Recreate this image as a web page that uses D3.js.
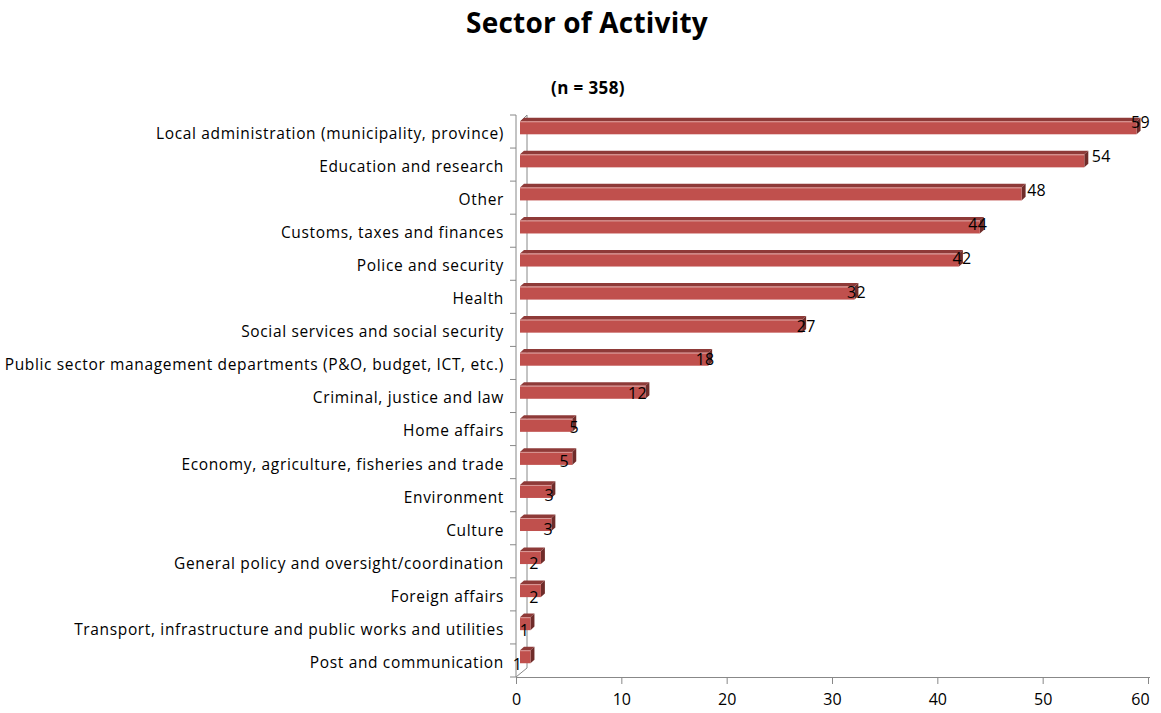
<!DOCTYPE html>
<html>
<head>
<meta charset="utf-8">
<script src="https://cdn.jsdelivr.net/npm/d3@7"></script>
<style>
  body { margin: 0; background: #fff; }
  svg { font-family: "Open Sans", "Noto Sans", sans-serif; }
</style>
</head>
<body>
<svg id="chart" width="1161" height="713"></svg>
<script>
// data (n = 358)
const categories = [
  "Local administration (municipality, province)",
  "Education and research",
  "Other",
  "Customs, taxes and finances",
  "Police and security",
  "Health",
  "Social services and social security",
  "Public sector management departments (P&O, budget, ICT, etc.)",
  "Criminal, justice and law",
  "Home affairs",
  "Economy, agriculture, fisheries and trade",
  "Environment",
  "Culture",
  "General policy and oversight/coordination",
  "Foreign affairs",
  "Transport, infrastructure and public works and utilities",
  "Post and communication"
];
const counts = [59, 54, 48, 44, 42, 32, 27, 18, 12, 5, 5, 3, 3, 2, 2, 1, 1];
const xTicks = [0, 10, 20, 30, 40, 50, 60];
const chartTitle = "Sector of Activity";
const subTitle = "(n = 358)";

const svg = d3.select("#chart");

// plot area
const pLeft = 516, pRight = 1148, pTop = 115, pBottom = 677;
const depth = 11, rise = 9;          // 3d wall offset
const axisColor = "#888";

// axis scale (front edge) and bar scale (bars sit a bit deeper in the 3d box)
const x = d3.scaleLinear().domain([0, 60]).range([pLeft, pRight]);
const xb = d3.scaleLinear().domain([0, 60]).range([pLeft + 4, pRight - 1]);
const y = d3.scaleBand().domain(categories).range([pTop, pBottom]);

// label nudges so they sit like Excel put them
const labelShift = [4, 17, 15, -2, 3, 2, 4, -3, -8, 2, -8, -2, -3, -7, -7, -6, -13];

// title
svg.append("text")
  .attr("x", 587).attr("y", 33)
  .attr("text-anchor", "middle")
  .style("font-size", "28px").style("font-weight", "bold")
  .style("letter-spacing", "0.2px")
  .text(chartTitle);

svg.append("text")
  .attr("x", 588).attr("y", 94)
  .attr("text-anchor", "middle")
  .style("font-size", "17px").style("font-weight", "bold")
  .style("letter-spacing", "0.4px")
  .text(subTitle);

// walls / floor edges
const walls = svg.append("g").attr("stroke", axisColor).attr("fill", "none");
walls.append("line").attr("x1", pLeft + depth).attr("x2", pLeft + depth)
  .attr("y1", pTop).attr("y2", pBottom - rise);
walls.append("line").attr("x1", pLeft + 5).attr("y1", pTop + 6)
  .attr("x2", pLeft + depth).attr("y2", pTop);
walls.append("line").attr("x1", pLeft).attr("y1", pBottom)
  .attr("x2", pLeft + depth).attr("y2", pBottom - rise);

// category axis
const yAxis = svg.append("g").attr("stroke", axisColor);
yAxis.append("line").attr("x1", pLeft).attr("x2", pLeft).attr("y1", pTop).attr("y2", pBottom);
yAxis.selectAll(".tick")
  .data(d3.range(categories.length + 1))
  .join("line")
  .attr("x1", pLeft - 6).attr("x2", pLeft)
  .attr("y1", i => pTop + i * y.step()).attr("y2", i => pTop + i * y.step());

svg.append("g").selectAll("text")
  .data(categories)
  .join("text")
  .attr("x", pLeft - 12)
  .attr("y", d => y(d) + y.bandwidth() / 2 + 2)
  .attr("dy", "0.35em")
  .attr("text-anchor", "end")
  .style("font-size", "15.5px")
  .style("letter-spacing", "0.65px")
  .style("fill", "#000")
  .text(d => d);

// value axis
const xAxis = svg.append("g").attr("transform", `translate(0,${pBottom})`)
  .call(d3.axisBottom(x).tickValues(xTicks).tickSize(7).tickPadding(10));
xAxis.select(".domain").attr("stroke", axisColor).attr("d", `M${pLeft},0.5H1150`);
xAxis.selectAll(".tick line").attr("stroke", axisColor);
xAxis.selectAll(".tick text").style("font-size", "16px").style("font-family", "Open Sans, sans-serif").attr("fill", "#000");
xAxis.selectAll(".tick").filter(d => d === 60).select("text").attr("dx", -8);

// 3d bars
const barH = 13, d = 4, dd = 3.6;
const x0 = xb(0);
const bars = svg.append("g").selectAll("g")
  .data(categories.map((c, i) => ({ c, v: counts[i], i })))
  .join("g");

bars.each(function (p) {
  const g = d3.select(this);
  const yt = y(p.c) + 6.3;
  const xe = xb(p.v);
  g.append("polygon")
    .attr("points", [[x0, yt], [x0 + d, yt - dd], [xe + d, yt - dd], [xe, yt]].join(" "))
    .attr("fill", "#8E3A38");
  g.append("polygon")
    .attr("points", [[xe, yt], [xe + d, yt - dd], [xe + d, yt + barH - dd], [xe, yt + barH]].join(" "))
    .attr("fill", "#6F2C2A");
  g.append("rect")
    .attr("x", x0).attr("y", yt)
    .attr("width", xe - x0).attr("height", barH)
    .attr("fill", "#C0504D");
  g.append("line")
    .attr("x1", x0).attr("x2", xe).attr("y1", yt + 0.5).attr("y2", yt + 0.5)
    .attr("stroke", "#D99A98").attr("stroke-width", 1);
});

// value labels
const n = categories.length;
svg.append("g").selectAll("text")
  .data(counts)
  .join("text")
  .attr("x", (v, i) => xb(v) + labelShift[i])
  .attr("y", (v, i) => y(categories[i]) + 6.3 + barH / 2 - 5 + 13 * i / (n - 1))
  .attr("dy", "0.35em")
  .attr("text-anchor", "middle")
  .style("font-size", "16px")
  .style("letter-spacing", "0.3px")
  .text(v => v);
</script>
</body>
</html>
